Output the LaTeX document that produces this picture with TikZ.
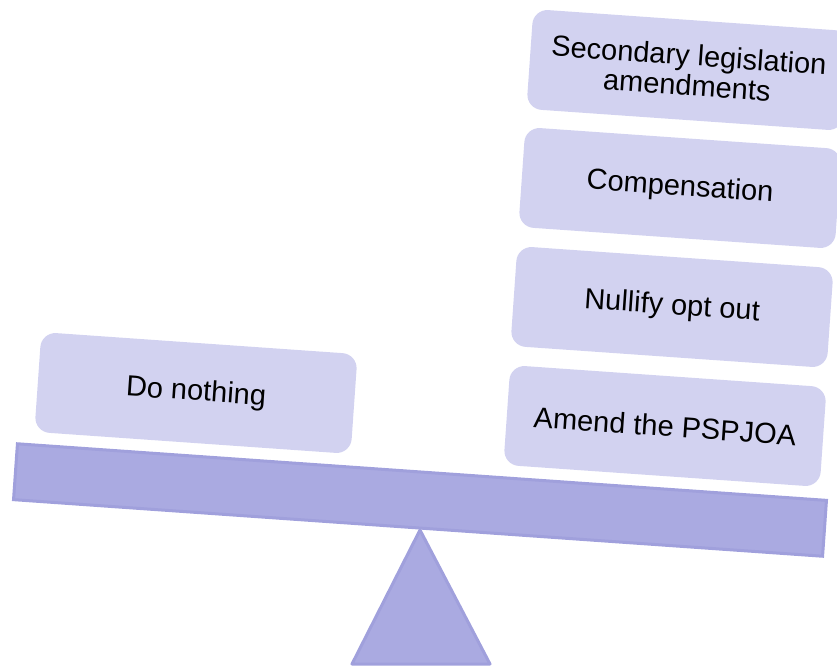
\documentclass[tikz,border=0pt]{standalone}
\usepackage{fontspec}
\setmainfont{Liberation Sans}
\definecolor{boxfill}{RGB}{210,210,240}
\definecolor{beamfill}{RGB}{170,170,225}
\definecolor{beamedge}{RGB}{160,160,220}
\begin{document}
\begin{tikzpicture}[x=1pt,y=-1pt,
  choice/.style={rectangle, rounded corners=15pt, fill=boxfill, minimum width=317pt,
    minimum height=100pt, rotate=-4, align=center, inner sep=0pt,
    font=\fontsize{29}{30}\selectfont},
  plankstyle/.style={rectangle, fill=beamfill, draw=beamedge, line width=3pt,
    minimum width=811pt, minimum height=56pt, rotate=-4, inner sep=0pt},
  fulcrumstyle/.style={fill=beamfill, draw=beamedge, line width=3pt, line join=round}]
\useasboundingbox (0,0) rectangle (837,667);
\coordinate (apex) at (420,530);
\coordinate (baseR) at (490,664);
\coordinate (baseL) at (352,664);
\draw[fulcrumstyle] (apex) -- (baseR) -- (baseL) -- cycle;
\node[plankstyle] (plank) at (420,500) {};
\node[choice] (nothing) at (196,393) {Do nothing};
\node[choice] (amend) at (665,426) {Amend the PSPJOA};
\node[choice] (nullify) at (672,307) {Nullify opt out};
\node[choice] (comp) at (680,188) {Compensation};
\node[choice] (second) at (688,70) {Secondary legislation\\amendments};
\end{tikzpicture}
\end{document}
